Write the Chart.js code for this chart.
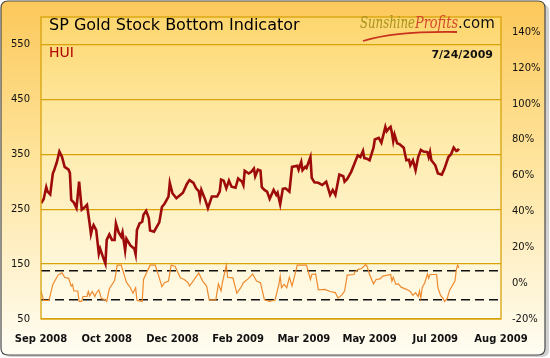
<!DOCTYPE html>
<html>
<head>
<meta charset="utf-8">
<script src="https://cdn.jsdelivr.net/npm/chart.js@4.4.1/dist/chart.umd.min.js"></script>
<style>
  html, body { margin: 0; padding: 0; background: #fff; }
  #wrap { width: 550px; height: 358px; }
</style>
</head>
<body>
<div id="wrap"><canvas id="chart" width="550" height="358"></canvas></div>
<script>
// axis ticks
const leftTicks = [50, 150, 250, 350, 450, 550];
const rightTicks = [-20, 0, 20, 40, 60, 80, 100, 120, 140];
const dayTicks = [0, 50, 100, 150, 200, 250, 300, 350];
const dayLabels = ['Sep 2008', 'Oct 2008', 'Dec 2008', 'Feb 2009', 'Mar 2009', 'May 2009', 'Jul 2009', 'Aug 2009'];

// HUI index (days counted from the left edge of the time axis)
const huiDays = [0, 2, 4, 5, 7, 9, 10, 12, 14, 16, 18, 21, 22, 23, 25, 27, 29, 31, 33, 35,
  37, 38, 39, 40, 42, 44, 45, 47, 49, 50, 52, 54, 56, 57, 59, 61, 62, 64, 65, 68,
  71, 72, 73, 75, 77, 78, 80, 82, 83, 86, 90, 92, 94, 97, 98, 100, 103, 106, 108, 111,
  113, 116, 118, 120, 121, 122, 125, 127, 130, 134, 136, 137, 139, 141, 143, 145, 148, 150, 153, 154,
  155, 158, 160, 162, 163, 165, 167, 168, 170, 172, 174, 177, 179, 180, 182, 184, 186, 189, 191, 195,
  196, 198, 199, 201, 202, 205, 206, 208, 211, 214, 217, 220, 222, 224, 227, 230, 231, 233, 236, 239,
  241, 243, 245, 246, 248, 250, 253, 254, 257, 259, 262, 263, 265, 266, 267, 268, 269, 271, 273, 276,
  277, 278, 280, 281, 283, 285, 287, 289, 291, 294, 295, 296, 297, 300, 302, 305, 307, 310, 312, 314,
  316, 317, 318];
const huiValues = [261, 268, 290, 282, 277, 315, 321, 335, 355, 345, 327, 322, 316, 267, 262, 252, 300, 249, 253, 258,
  224, 205, 215, 221, 212, 169, 178, 164, 151, 194, 204, 194, 194, 224, 208, 200, 208, 175, 196, 184,
  178, 168, 212, 224, 227, 240, 247, 234, 211, 209, 226, 254, 260, 273, 298, 279, 270, 276, 280, 296,
  303, 298, 288, 283, 270, 285, 267, 252, 273, 273, 282, 304, 302, 288, 302, 291, 289, 306, 300, 294,
  320, 315, 318, 324, 310, 322, 320, 290, 285, 282, 269, 285, 276, 280, 259, 287, 288, 282, 327, 329,
  322, 336, 321, 327, 325, 345, 307, 299, 298, 294, 300, 276, 285, 276, 313, 310, 300, 305, 318, 336,
  348, 345, 356, 343, 342, 339, 362, 377, 380, 371, 400, 392, 398, 400, 389, 374, 386, 370, 368, 362,
  350, 339, 340, 330, 339, 321, 345, 358, 355, 354, 345, 354, 339, 330, 315, 313, 324, 345, 350, 362,
  356, 357, 360];

// bottom indicator (drawn on the left scale, lower panel)
const oscDays = [0, 2, 6, 7, 9, 13, 16, 18, 21, 23, 24, 25, 28, 29, 31, 32, 35, 36, 37, 39,
  41, 42, 44, 46, 49, 50, 52, 56, 58, 61, 65, 68, 70, 72, 73, 77, 78, 83, 87, 90,
  92, 94, 97, 99, 102, 106, 109, 112, 113, 116, 120, 123, 126, 128, 133, 135, 137, 138, 141, 142,
  146, 149, 152, 154, 158, 161, 164, 167, 170, 174, 177, 178, 181, 182, 183, 185, 187, 189, 191, 195,
  202, 205, 206, 209, 211, 216, 220, 224, 226, 229, 231, 233, 238, 239, 241, 244, 247, 248, 250, 253,
  255, 258, 260, 266, 267, 268, 270, 272, 274, 278, 281, 283, 285, 287, 288, 289, 290, 292, 294, 295,
  296, 301, 302, 304, 306, 307, 309, 311, 315, 316, 317, 318];
const oscValues = [100, 84, 84, 93, 113, 130, 134, 126, 124, 110, 113, 101, 101, 82, 82, 91, 91, 100, 92, 100,
  91, 97, 103, 87, 85, 82, 105, 120, 148, 148, 117, 107, 97, 107, 84, 82, 122, 148, 148, 125,
  109, 116, 119, 148, 146, 125, 122, 116, 110, 120, 134, 119, 110, 85, 85, 114, 101, 116, 148, 126,
  125, 97, 107, 116, 124, 132, 119, 116, 85, 82, 84, 84, 113, 128, 107, 113, 107, 126, 110, 148,
  148, 122, 131, 132, 103, 104, 100, 98, 88, 94, 101, 130, 131, 136, 140, 142, 149, 147, 131, 114,
  122, 123, 128, 131, 119, 126, 113, 114, 108, 104, 100, 93, 98, 91, 101, 88, 107, 116, 132, 124,
  131, 131, 107, 93, 87, 82, 87, 103, 119, 140, 148, 143];

// buy / sell threshold lines of the indicator
const bandLevels = [138, 85];

const huiPoints = huiDays.map((d, i) => ({ x: d, y: huiValues[i] }));
const oscPoints = oscDays.map((d, i) => ({ x: d, y: oscValues[i] }));
const bandSets = bandLevels.map(lvl => ({
  data: [{ x: dayTicks[0], y: lvl }, { x: dayTicks[dayTicks.length - 1], y: lvl }],
  borderColor: '#111',
  borderWidth: 1.4,
  borderDash: [9, 5],
  pointRadius: 0,
  yAxisID: 'y'
}));

const GOLD = '#D8A20A';

// background, frame and title band
const decor = {
  id: 'decor',
  beforeDraw(chart) {
    const ctx = chart.ctx;
    const a = chart.chartArea;
    ctx.save();
    ctx.fillStyle = '#fff';
    ctx.fillRect(0, 0, 550, 358);
    // shadow of the frame
    ctx.fillStyle = 'rgba(0,0,0,0.18)';
    roundRect(ctx, 4, 4, 545, 353, 7);
    ctx.fill();
    let g = ctx.createLinearGradient(0, 0, 0, 356);
    g.addColorStop(0, '#FCC85A');
    g.addColorStop(0.45, '#FEE49C');
    g.addColorStop(1, '#FFFDF4');
    ctx.fillStyle = g;
    roundRect(ctx, 1, 1, 544, 354, 7);
    ctx.fill();
    ctx.strokeStyle = '#4a4a4a';
    ctx.lineWidth = 1.2;
    ctx.stroke();
    // plot area
    g = ctx.createLinearGradient(0, a.top, 0, a.bottom);
    g.addColorStop(0, '#FDD66E');
    g.addColorStop(0.35, '#FEE9A4');
    g.addColorStop(1, '#FFFCEE');
    ctx.fillStyle = g;
    ctx.fillRect(a.left, a.top, a.right - a.left, a.bottom - a.top);
    ctx.restore();
  },
  afterDraw(chart) {
    const ctx = chart.ctx;
    const a = chart.chartArea;
    ctx.save();
    ctx.strokeStyle = GOLD;
    ctx.lineWidth = 1.3;
    ctx.strokeRect(a.left, a.top, a.right - a.left, a.bottom - a.top);

    ctx.textBaseline = 'alphabetic';
    ctx.fillStyle = '#000';
    ctx.font = '16px "DejaVu Sans", sans-serif';
    ctx.textAlign = 'left';
    ctx.fillText('SP Gold Stock Bottom Indicator', 49, 30, 272);

    // site logo, as text
    ctx.font = 'italic 17px "DejaVu Serif", serif';
    ctx.fillStyle = '#A8921E';
    ctx.fillText('Sunshine', 360, 28, 55);
    ctx.fillStyle = '#D4472A';
    ctx.fillText('Profits', 415, 28, 43);
    ctx.fillStyle = '#111';
    ctx.font = '15px "DejaVu Sans", sans-serif';
    ctx.fillText('.com', 458, 28, 37);
    ctx.strokeStyle = '#C8321E';
    ctx.lineWidth = 1.8;
    ctx.beginPath();
    ctx.moveTo(363, 41);
    ctx.quadraticCurveTo(395, 31, 457, 32);
    ctx.stroke();

    ctx.font = '14px "DejaVu Sans", sans-serif';
    ctx.fillStyle = '#B00000';
    ctx.fillText('HUI', 49, 57, 28);

    ctx.font = 'bold 11px "DejaVu Sans", sans-serif';
    ctx.fillStyle = '#111';
    ctx.textAlign = 'right';
    ctx.fillText('7/24/2009', 493, 58);
    ctx.restore();
  }
};

function roundRect(ctx, x, y, w, h, r) {
  ctx.beginPath();
  ctx.moveTo(x + r, y);
  ctx.lineTo(x + w - r, y);
  ctx.quadraticCurveTo(x + w, y, x + w, y + r);
  ctx.lineTo(x + w, y + h - r);
  ctx.quadraticCurveTo(x + w, y + h, x + w - r, y + h);
  ctx.lineTo(x + r, y + h);
  ctx.quadraticCurveTo(x, y + h, x, y + h - r);
  ctx.lineTo(x, y + r);
  ctx.quadraticCurveTo(x, y, x + r, y);
  ctx.closePath();
}

const ctx = document.getElementById('chart').getContext('2d');
new Chart(ctx, {
  type: 'line',
  data: {
    datasets: [
      {
        data: oscPoints,
        borderColor: '#EE8A2E',
        borderWidth: 1.2,
        pointRadius: 0,
        tension: 0,
        yAxisID: 'y'
      },
      ...bandSets,
      {
        data: huiPoints,
        borderColor: '#9E0B0B',
        borderWidth: 2.6,
        pointRadius: 0,
        tension: 0,
        yAxisID: 'y'
      },
      {
        data: [],
        yAxisID: 'y1'
      }
    ]
  },
  options: {
    responsive: false,
    animation: false,
    layout: { padding: { top: 10, left: 0, right: 0, bottom: 0 } },
    plugins: { legend: { display: false }, tooltip: { enabled: false } },
    scales: {
      x: {
        type: 'linear',
        min: dayTicks[0],
        max: dayTicks[dayTicks.length - 1],
        afterBuildTicks: ax => { ax.ticks = dayTicks.map(v => ({ value: v })); },
        afterFit: ax => { ax.height = 39; },
        grid: { display: false, drawTicks: false },
        border: { display: false },
        ticks: {
          autoSkip: false,
          maxRotation: 0,
          padding: 14,
          color: '#111',
          font: { family: '"DejaVu Sans", sans-serif', size: 10, weight: 'bold' },
          callback: v => dayLabels[dayTicks.indexOf(v)]
        }
      },
      y: {
        position: 'left',
        min: 50,
        max: 600,
        afterBuildTicks: ax => { ax.ticks = leftTicks.map(v => ({ value: v })); },
        afterFit: ax => { ax.width = 41; },
        grid: { color: GOLD, lineWidth: 1.2, drawTicks: false },
        border: { display: false },
        ticks: {
          padding: 11,
          color: '#111',
          font: { family: '"DejaVu Sans", sans-serif', size: 10 }
        }
      },
      y1: {
        position: 'right',
        min: -20,
        max: 148.6,
        afterBuildTicks: ax => { ax.ticks = rightTicks.map(v => ({ value: v })); },
        afterFit: ax => { ax.width = 49; },
        grid: { display: false, drawTicks: false },
        border: { display: false },
        ticks: {
          padding: 11,
          color: '#111',
          font: { family: '"DejaVu Sans", sans-serif', size: 10 },
          callback: v => v + '%'
        }
      }
    }
  },
  plugins: [decor]
});
</script>
</body>
</html>
